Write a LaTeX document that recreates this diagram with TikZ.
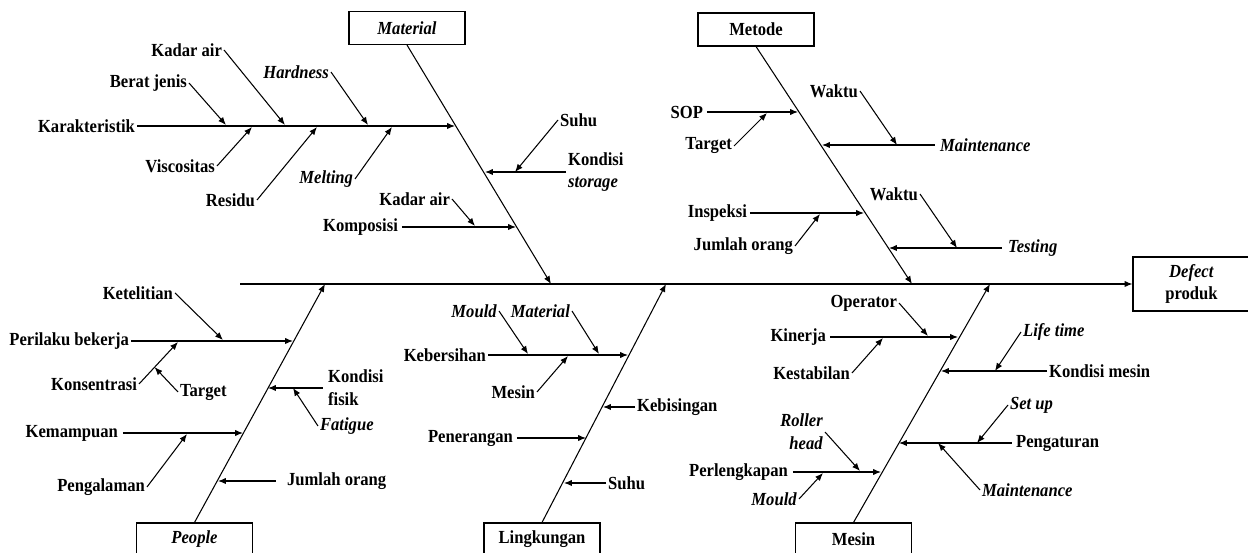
\documentclass[tikz,border=0pt]{standalone}
\usepackage{fontspec}
\setmainfont{Liberation Serif}[FakeStretch=0.9]
\usetikzlibrary{arrows.meta,calc}
\tikzset{
  lbl/.style={font=\fontsize{10.5}{13}\selectfont\bfseries, inner sep=1pt, align=left},
  catbox/.style={draw, line width=0.6pt, minimum width=2.32cm, minimum height=0.66cm,
    inner sep=0pt, font=\fontsize{10.5}{13}\selectfont\bfseries, align=center},
  arr/.style={line width=0.6pt, -{Latex[length=4.5pt,width=3.6pt]}},
}
\begin{document}
\begin{tikzpicture}[x=0.02cm, y=-0.02cm]
\clip (0,0) rectangle (1248,553);
% effect and categories
\node[catbox, minimum width=2.34cm, minimum height=1.08cm] (def) at (1191.5,284) {\textit{Defect}\\produk};
\node[catbox] (mat) at (407,28) {\textit{Material}};
\node[catbox] (met) at (756,29.5) {Metode};
\node[catbox] (peo) at (194.5,539.5) {\textit{People}};
\node[catbox] (lin) at (542,539.5) {Lingkungan};
\node[catbox] (mes) at (853.5,539.5) {Mesin};
% spine and bones
\coordinate (tail) at (240,284);
\coordinate (mat-h) at (551,284);
\coordinate (met-h) at (912,284);
\coordinate (peo-h) at (325,284);
\coordinate (lin-h) at (666,284);
\coordinate (mes-h) at (990,284);
\draw[arr] (tail) -- (def.west);
\draw[arr] (mat.south) -- (mat-h);
\draw[arr] (met.south) -- (met-h);
\draw[arr] (peo.north) -- (peo-h);
\draw[arr] (lin.north) -- (lin-h);
\draw[arr] (mes.north) -- (mes-h);
% causes from the left
\foreach \n/\t/\x/\y/\tx/\g in {kar/Karakteristik/137/126/455/0pt, kom/Komposisi/400/227/516/1.1pt,
    sop/SOP/705/112/798/1.1pt, ins/Inspeksi/749/213/864/0.5pt, per/Perilaku bekerja/131/341/293/0pt,
    kem/Kemampuan/120/433/243/1.7pt, keb/Kebersihan/488/355/628/0pt, pen/Penerangan/515/438/586/1.1pt,
    kin/Kinerja/828/337/958/1.1pt, prl/Perlengkapan/790/472/881/1.7pt}
{
  \node[lbl, anchor=east] (\n) at (\x,\y) {\t};
  \coordinate (\n-t) at (\tx,\y);
  \draw[arr, shorten <=\g] (\n.east) -- (\n-t);
}
% causes from the right
\foreach \n/\t/\x/\y/\tx/\g in {sto/{Kondisi\\\textit{storage}}/566/172/485/0pt, mnt/\textit{Maintenance}/938/145/822/1.9pt,
    tst/\textit{Testing}/1006/248/889/2.4pt, fis/{Kondisi\\fisik}/326/388/268/1.9pt, jml/Jumlah orang/285/481/218/5.3pt,
    bis/Kebisingan/635/407/603/0pt, suh/Suhu/606/483/564/0pt, kms/Kondisi mesin/1047/371/941/0pt,
    atr/Pengaturan/1014/443/899/1.3pt}
{
  \node[lbl, anchor=west] (\n) at (\x,\y) {\t};
  \coordinate (\n-t) at (\tx,\y);
  \draw[arr, shorten <=\g] (\n.west) -- (\n-t);
}
% sub-causes, label on the left
\foreach \n/\t/\x/\y/\tx/\ty in {bj/Berat jenis/189/83/226/125, ka1/Kadar air/224/50/285/125,
    hrd/\textit{Hardness}/331/72/368/125, vis/Viscositas/217/166/252/127, res/Residu/257/200/317/127,
    mel/\textit{Melting}/355/179/392/127, ka2/Kadar air/452/199/475/226, tgt/Target/734/146/767/113,
    wk1/Waktu/860/91/897/145, jor/Jumlah orang/795/246/820/214, wk2/Waktu/920/194/957/248,
    ktl/Ketelitian/175/293/223/340, kon/Konsentrasi/139/384/178/342, pgl/Pengalaman/147/487/187/434,
    mld/\textit{Mould}/499/311/528/354, mtr/\textit{Material}/572/311/599/354, msi/Mesin/537/392/568/356,
    opr/Operator/899/303/928/336, kst/Kestabilan/852/373/883/338, mld2/\textit{Mould}/799/499/823/473}
{
  \node[lbl, anchor=east] (\n) at (\x,\y) {\t};
  \coordinate (\n-t) at (\tx,\ty);
  \draw[arr] (\n.east) -- (\n-t);
}
\node[lbl, anchor=east, align=right] (rol) at (825,432) {\textit{Roller}\\\textit{head}};
\coordinate (rol-t) at (860,471);
\draw[arr] (rol.east) -- (rol-t);
% sub-causes, label on the right
\foreach \n/\t/\x/\y/\tx/\ty in {shu/Suhu/558/120/515/172, fat/\textit{Fatigue}/318/426/293/388,
    lft/\textit{Life time}/1021/332/995/371, stu/\textit{Set up}/1008/405/977/443,
    mn2/\textit{Maintenance}/980/490/938/443}
{
  \node[lbl, anchor=west] (\n) at (\x,\y) {\t};
  \coordinate (\n-t) at (\tx,\ty);
  \draw[arr] (\n.west) -- (\n-t);
}
\node[lbl, anchor=west] (tg2) at (178,392) {Target};
\coordinate (tg2-t) at ($(kon.east)!0.4!(kon-t)$);
\draw[arr] (tg2.west) -- (tg2-t);
\end{tikzpicture}
\end{document}
